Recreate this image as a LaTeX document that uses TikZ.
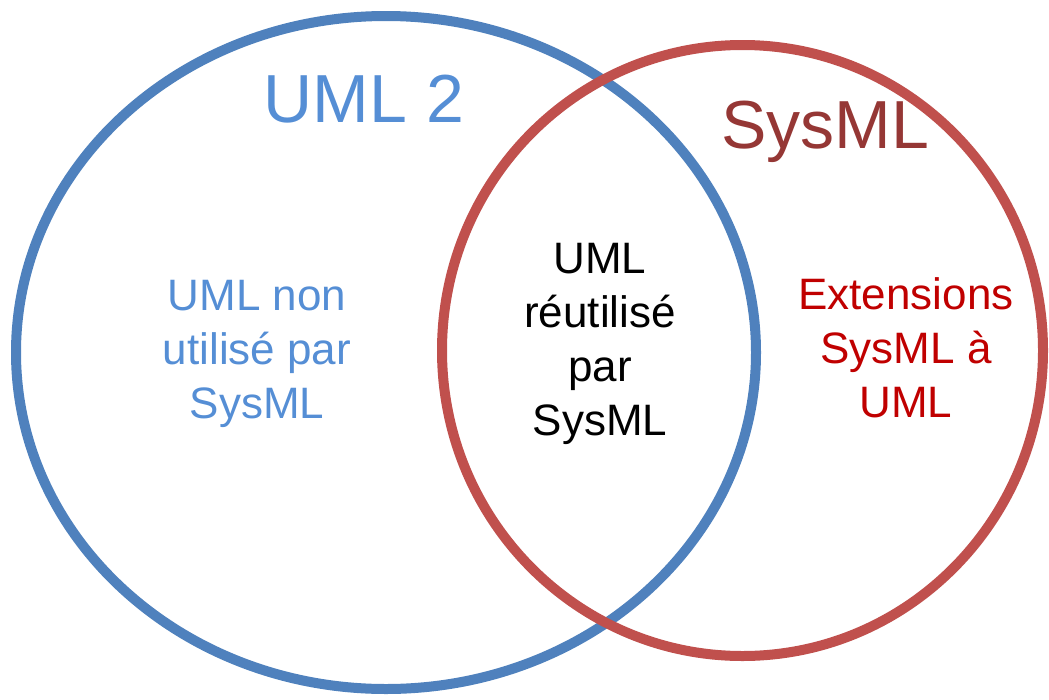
\documentclass[tikz,border=0pt]{standalone}
\usepackage{fontspec}
\setmainfont{Liberation Sans}
\definecolor{blueline}{HTML}{4F81BD}
\definecolor{redline}{HTML}{C0504D}
\definecolor{bluetext}{HTML}{558ED5}
\definecolor{sysmltitle}{HTML}{953735}
\definecolor{redtext}{HTML}{C00000}
\tikzset{
  setline/.style={line width=10pt},
  title/.style={font=\fontsize{68}{80}\selectfont, anchor=base, inner sep=0pt},
  body/.style={font=\fontsize{44}{54}\selectfont, align=center, anchor=base, inner sep=0pt},
}
\begin{document}
\begin{tikzpicture}[x=1pt,y=-1pt]
\useasboundingbox (0,0) rectangle (1049,699);
\draw[setline, blueline] (386,352.5) ellipse [x radius=370pt, y radius=336.5pt];
\draw[setline, redline] (742.5,350.5) ellipse [x radius=300.5pt, y radius=305.5pt];
\node[title, text=bluetext] (umltitle) at (364,122) {UML 2};
\node[title, text=sysmltitle] (sysmltitle) at (825,148) {SysML};
\node[body, text=bluetext] (left) at (257,418) {UML non\\utilisé par\\SysML};
\node[body, text=black] (mid) at (600,435) {UML\\réutilisé\\par\\SysML};
\node[body, text=redtext] (right) at (906,417) {Extensions\\SysML à\\UML};
\end{tikzpicture}
\end{document}
